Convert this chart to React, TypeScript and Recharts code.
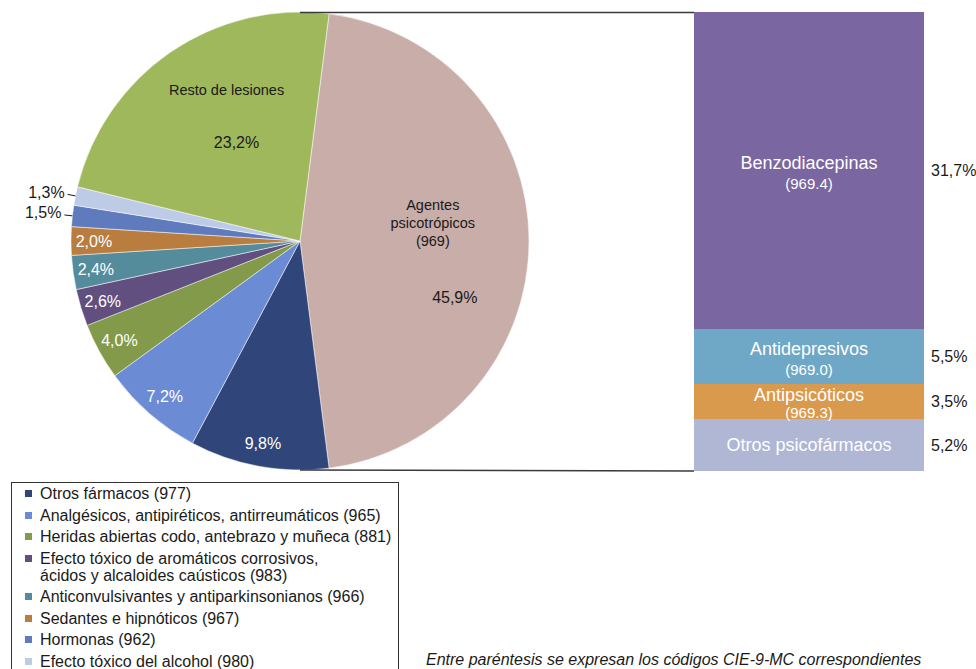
import { Bar, BarChart, Cell, LabelList, Pie, PieChart, XAxis, YAxis } from "recharts";

// pie slices, clockwise starting with the exploded slice
const pieNames = [
  "Agentes psicotrópicos (969)",
  "Otros fármacos (977)",
  "Analgésicos, antipiréticos, antirreumáticos (965)",
  "Heridas abiertas codo, antebrazo y muñeca (881)",
  "Efecto tóxico de aromáticos corrosivos,\nácidos y alcaloides caústicos (983)",
  "Anticonvulsivantes y antiparkinsonianos (966)",
  "Sedantes e hipnóticos (967)",
  "Hormonas (962)",
  "Efecto tóxico del alcohol (980)",
  "Resto de lesiones",
];
const pieValues = [45.9, 9.8, 7.2, 4.0, 2.6, 2.4, 2.0, 1.5, 1.3, 23.2];
const pieColors = [
  "#c9ada8",
  "#30457a",
  "#6c8bd5",
  "#839a4a",
  "#614f7f",
  "#558c9c",
  "#b97d3f",
  "#5f7bbe",
  "#bdcbe6",
  "#a0b85c",
];

// breakdown of the psychotropic slice, top to bottom
const barNames = ["Benzodiacepinas", "Antidepresivos", "Antipsicóticos", "Otros psicofármacos"];
const barCodes = ["(969.4)", "(969.0)", "(969.3)", ""];
const barValues = [31.7, 5.5, 3.5, 5.2];
const barColors = ["#7a66a0", "#6fa8c6", "#da9a4e", "#afb7d5"];

const FONT = '"Liberation Sans", Arial, Helvetica, sans-serif';
const RADIAN = Math.PI / 180;

const PIE_CX = 300;
const PIE_CY = 241;
const PIE_R = 229;
const BAR_LEFT = 694;
const BAR_TOP = 12;
const BAR_W = 230;
const BAR_H = 459;

const fmt = (v: number) => v.toFixed(1).replace(".", ",") + "%";

const pieData = pieNames.map((name, i) => ({ name, value: pieValues[i] }));
const pieTotal = pieValues.reduce((a, b) => a + b, 0);
const startAngle = (pieValues[0] / pieTotal) * 180;

const barRow: Record<string, number | string> = { cat: "psicotrópicos" };
barNames.forEach((n, i) => (barRow[n] = barValues[i]));
const barData = [barRow];
const barTotal = barValues.reduce((a, b) => a + b, 0);

// how each slice gets its label
const outsideLabels = [7, 8];
const splitLabels: Record<number, any> = {
  0: { r: 0.58, lines: ["Agentes", "psicotrópicos", "(969)"], nameDx: 0, nameDy: -36, valueDx: 22, valueDy: 56 },
  9: { r: 0.52, lines: ["Resto de lesiones"], nameDx: -6, nameDy: -53, valueDx: 4, valueDy: 0 },
};

const renderPieLabel = (props: any) => {
  const { cx, cy, midAngle, outerRadius, index, value } = props;
  const cos = Math.cos(-midAngle * RADIAN);
  const sin = Math.sin(-midAngle * RADIAN);

  const split = splitLabels[index];
  if (split) {
    const ax = cx + outerRadius * split.r * cos;
    const ay = cy + outerRadius * split.r * sin;
    return (
      <g fontFamily={FONT} fill="#1a1a1a">
        {split.lines.map((l: string, k: number) => (
          <text
            key={k}
            x={ax + split.nameDx}
            y={ay + split.nameDy + k * 18}
            textAnchor="middle"
            dominantBaseline="central"
            fontSize={14.5}
          >
            {l}
          </text>
        ))}
        <text
          x={ax + split.valueDx}
          y={ay + split.valueDy}
          textAnchor="middle"
          dominantBaseline="central"
          fontSize={16}
        >
          {fmt(value)}
        </text>
      </g>
    );
  }

  if (outsideLabels.includes(index)) {
    const ex = cx + outerRadius * cos;
    const ey = cy + outerRadius * sin;
    const lx = cx + (outerRadius + 8) * cos;
    const ly = cy + (outerRadius + 8) * sin;
    return (
      <g>
        <path d={`M${ex},${ey}L${lx},${ly}`} stroke="#1a1a1a" strokeWidth={1} fill="none" />
        <text
          x={lx - 3}
          y={ly - 2}
          textAnchor="end"
          dominantBaseline="central"
          fontSize={16}
          fontFamily={FONT}
          fill="#1a1a1a"
        >
          {fmt(value)}
        </text>
      </g>
    );
  }

  const r = outerRadius * 0.9;
  return (
    <text
      x={cx + r * cos}
      y={cy + r * sin}
      textAnchor="middle"
      dominantBaseline="central"
      fontSize={16}
      fontFamily={FONT}
      fill="#ffffff"
    >
      {fmt(value)}
    </text>
  );
};

const makeBarLabel = (i: number) => (props: any) => {
  const { x, y, width, height } = props;
  const mx = Number(x) + Number(width) / 2;
  const my = Number(y) + Number(height) / 2;
  const gap = Math.min(21, Number(height) * 0.48);
  const code = barCodes[i];
  return (
    <g fontFamily={FONT}>
      {code ? (
        <>
          <text x={mx} y={my - gap * 0.36} textAnchor="middle" dominantBaseline="central" fontSize={18} fill="#ffffff">
            {barNames[i]}
          </text>
          <text x={mx} y={my + gap * 0.64} textAnchor="middle" dominantBaseline="central" fontSize={15} fill="#ffffff">
            {code}
          </text>
        </>
      ) : (
        <text x={mx} y={my} textAnchor="middle" dominantBaseline="central" fontSize={18} fill="#ffffff">
          {barNames[i]}
        </text>
      )}
      <text
        x={Number(x) + Number(width) + 7}
        y={my}
        textAnchor="start"
        dominantBaseline="central"
        fontSize={16}
        fill="#1a1a1a"
      >
        {fmt(barValues[i])}
      </text>
    </g>
  );
};

const legendIdx = [1, 2, 3, 4, 5, 6, 7, 8];

export default function App() {
  return (
    <div
      style={{
        position: "absolute",
        left: 0,
        top: 0,
        width: 976,
        height: 669,
        overflow: "hidden",
        background: "#ffffff",
        fontFamily: FONT,
      }}
    >
      <div style={{ position: "absolute", left: 0, top: 0 }}>
        <PieChart width={600} height={485} margin={{ top: 0, right: 0, bottom: 0, left: 0 }}>
          <Pie
            data={pieData}
            dataKey="value"
            nameKey="name"
            cx={PIE_CX}
            cy={PIE_CY}
            outerRadius={PIE_R}
            startAngle={startAngle}
            endAngle={startAngle - 360}
            stroke="#ffffff"
            strokeWidth={0.5}
            label={renderPieLabel}
            labelLine={false}
            isAnimationActive={false}
          >
            {pieData.map((d, i) => (
              <Cell key={d.name} fill={pieColors[i]} />
            ))}
          </Pie>
        </PieChart>
      </div>

      <div style={{ position: "absolute", left: BAR_LEFT, top: BAR_TOP }}>
        <BarChart
          width={BAR_W + 52}
          height={BAR_H}
          data={barData}
          margin={{ top: 0, right: 52, bottom: 0, left: 0 }}
          barCategoryGap={0}
          barGap={0}
        >
          <XAxis dataKey="cat" hide />
          <YAxis type="number" domain={[0, barTotal]} hide />
          {barNames
            .map((n, i) => (
              <Bar key={n} dataKey={n} stackId="a" fill={barColors[i]} isAnimationActive={false}>
                <LabelList dataKey={n} content={makeBarLabel(i)} />
              </Bar>
            ))
            .reverse()}
        </BarChart>
      </div>

      <svg
        width={976}
        height={669}
        style={{ position: "absolute", left: 0, top: 0, pointerEvents: "none" }}
      >
        <line x1={PIE_CX} y1={PIE_CY - PIE_R + 0.5} x2={BAR_LEFT} y2={BAR_TOP + 0.5} stroke="#3a3a3a" strokeWidth={1.5} />
        <line x1={PIE_CX} y1={PIE_CY + PIE_R} x2={BAR_LEFT} y2={BAR_TOP + BAR_H} stroke="#3a3a3a" strokeWidth={1.5} />
      </svg>

      <div
        style={{
          position: "absolute",
          left: 11,
          top: 482,
          width: 388,
          height: 220,
          border: "1px solid #333333",
          padding: "2px 0 0 13px",
          boxSizing: "border-box",
          fontSize: 16,
          lineHeight: "17px",
          color: "#1a1a1a",
        }}
      >
        {legendIdx.map((i) => (
          <div key={i} style={{ display: "flex", alignItems: "flex-start", marginBottom: 4.5 }}>
            <span
              style={{
                display: "inline-block",
                width: 7,
                height: 7,
                marginTop: 5,
                marginRight: 8,
                background: pieColors[i],
                flex: "none",
              }}
            />
            <span style={{ whiteSpace: "pre" }}>{pieNames[i]}</span>
          </div>
        ))}
      </div>

      <div
        style={{
          position: "absolute",
          left: 426,
          top: 651,
          fontSize: 16,
          lineHeight: "18px",
          fontStyle: "italic",
          color: "#1a1a1a",
          whiteSpace: "nowrap",
        }}
      >
        Entre paréntesis se expresan los códigos CIE-9-MC correspondientes
      </div>
    </div>
  );
}
